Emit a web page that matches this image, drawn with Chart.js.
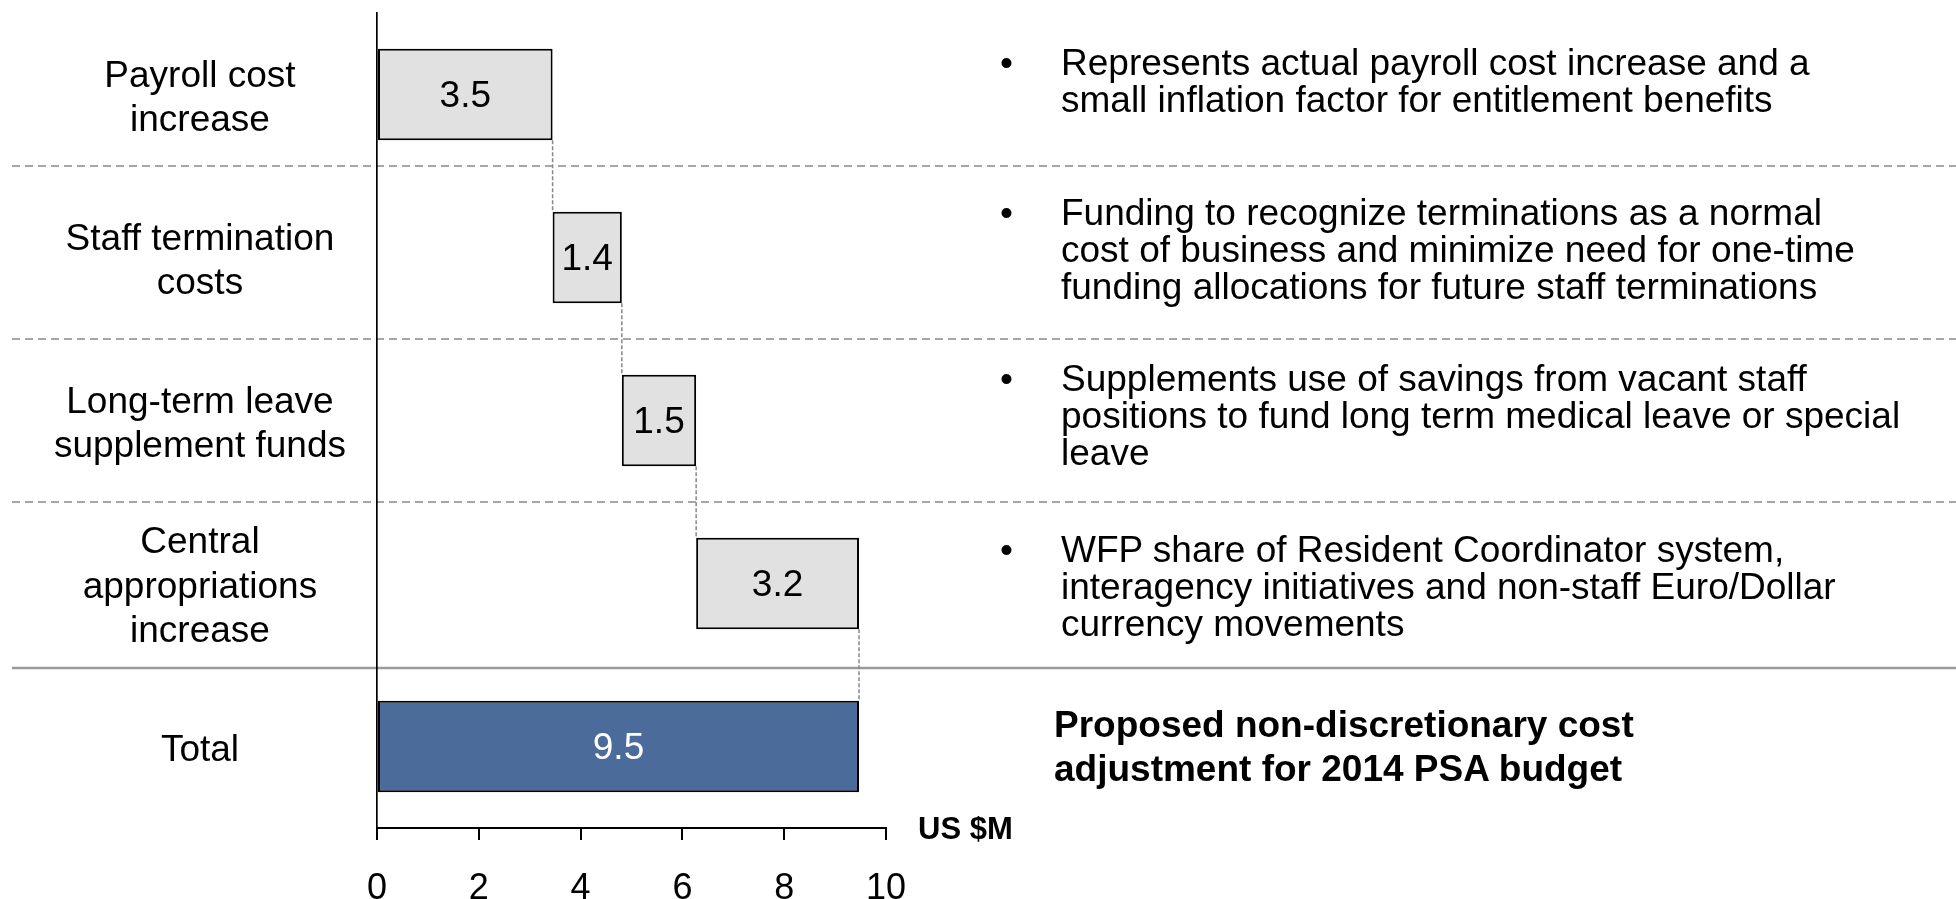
<!DOCTYPE html>
<html lang="en">
<head>
    <meta charset="UTF-8">
    <title>Non-discretionary cost adjustment</title>
    <script src="https://cdn.jsdelivr.net/npm/chart.js"></script>
    <style>
        body { margin: 0; background: #fff; font-family: "Liberation Sans", Arial, sans-serif; }
        #wrap { position: relative; width: 1956px; height: 899px; }
        .note { position: absolute; left: 1000px; font-size: 37px; line-height: 37px; color: #000; white-space: nowrap; }
        .note .dot { display: inline-block; width: 61px; vertical-align: top; }
        .note .txt { display: inline-block; vertical-align: top; }
        .bold { position: absolute; font-weight: bold; color: #000; white-space: nowrap; }
    </style>
</head>
<body>
<div id="wrap">
    <canvas id="costChart"></canvas>
    <div class="note" style="top:44px"><span class="dot">•</span><span class="txt">Represents actual payroll cost increase and a<br>small inflation factor for entitlement benefits</span></div>
    <div class="note" style="top:194px"><span class="dot">•</span><span class="txt">Funding to recognize terminations as a normal<br>cost of business and minimize need for one-time<br>funding allocations for future staff terminations</span></div>
    <div class="note" style="top:360px"><span class="dot">•</span><span class="txt">Supplements use of savings from vacant staff<br>positions to fund long term medical leave or special<br>leave</span></div>
    <div class="note" style="top:531px"><span class="dot">•</span><span class="txt">WFP share of Resident Coordinator system,<br>interagency initiatives and non-staff Euro/Dollar<br>currency movements</span></div>
    <div class="bold" style="left:1054px; top:703px; font-size:37px; line-height:44px">Proposed non-discretionary cost<br>adjustment for 2014 PSA budget</div>
    <div class="bold" style="left:918px; top:813px; font-size:31px; line-height:31px">US $M</div>
</div>

<script>
// categories and values (US $M)
const categories = [
    ['Payroll cost', 'increase'],
    ['Staff termination', 'costs'],
    ['Long-term leave', 'supplement funds'],
    ['Central', 'appropriations', 'increase'],
    'Total'
];
const increments = [3.45, 1.36, 1.46, 3.2];
const xTicks = [0, 2, 4, 6, 8, 10];

// build floating bars for the waterfall
let running = 0;
const ranges = [];
const shown = [];
increments.forEach(function (v) {
    ranges.push([running, running + v]);
    shown.push(v);
    running += v;
});
ranges.push([0, running]);
shown.push(running);

const fillColors = ['#e1e1e1', '#e1e1e1', '#e1e1e1', '#e1e1e1', '#4b6b9a'];
const textColors = ['#000', '#000', '#000', '#000', '#fff'];
const FONT = '"Liberation Sans", Arial, sans-serif';
// small pixel nudges of the row separators from the category boundaries
const sepNudge = [-10, 0, 0, 3];

const separators = {
    id: 'separators',
    beforeDraw(chart) {
        const ctx = chart.ctx;
        const y = chart.scales.y;
        ctx.save();
        for (let i = 0; i < categories.length - 1; i++) {
            const py = (y.getPixelForValue(i) + y.getPixelForValue(i + 1)) / 2 + sepNudge[i];
            const last = i === categories.length - 2;
            ctx.beginPath();
            ctx.setLineDash(last ? [] : [8, 5]);
            ctx.lineWidth = last ? 2.5 : 2;
            ctx.strokeStyle = last ? '#9a9a9a' : '#a6a6a6';
            ctx.moveTo(12, py);
            ctx.lineTo(chart.width, py);
            ctx.stroke();
        }
        ctx.restore();
    }
};

const barExtras = {
    id: 'barExtras',
    afterDatasetsDraw(chart) {
        const ctx = chart.ctx;
        const bars = chart.getDatasetMeta(0).data;
        ctx.save();
        // connectors
        ctx.setLineDash([4, 2]);
        ctx.lineWidth = 1.5;
        ctx.strokeStyle = '#888';
        for (let i = 0; i < bars.length - 1; i++) {
            const a = bars[i], b = bars[i + 1];
            ctx.beginPath();
            ctx.moveTo(a.x, a.y + a.height / 2);
            ctx.lineTo(a.x, b.y - b.height / 2);
            ctx.stroke();
        }
        // value labels
        ctx.setLineDash([]);
        ctx.font = '37px ' + FONT;
        ctx.textAlign = 'center';
        ctx.textBaseline = 'middle';
        bars.forEach(function (bar, i) {
            ctx.fillStyle = textColors[i];
            ctx.fillText((Math.round(shown[i] * 10) / 10).toFixed(1), (bar.x + bar.base) / 2, bar.y + 2);
        });
        ctx.restore();
    }
};

const ctx = document.getElementById('costChart').getContext('2d');
new Chart(ctx, {
    type: 'bar',
    data: {
        labels: categories,
        datasets: [{
            data: ranges,
            backgroundColor: fillColors,
            borderColor: '#000',
            borderWidth: 2,
            borderSkipped: false,
            barPercentage: 0.56,
            categoryPercentage: 1.0
        }]
    },
    options: {
        indexAxis: 'y',
        responsive: true,
        maintainAspectRatio: false,
        animation: false,
        layout: { padding: { top: 13, right: 1070, left: 0, bottom: 0 } },
        plugins: { legend: { display: false }, tooltip: { enabled: false } },
        scales: {
            x: {
                min: 0,
                max: 10,
                afterBuildTicks(scale) { scale.ticks = xTicks.map(v => ({ value: v })); },
                afterFit(scale) { scale.height = 71; scale.paddingLeft = 0; scale.paddingRight = 0; },
                grid: { drawOnChartArea: false, drawTicks: true, tickLength: 12, color: '#000', lineWidth: 2 },
                border: { display: true, color: '#000', width: 2 },
                ticks: { color: '#000', padding: 27, maxRotation: 0, font: { family: FONT, size: 36 } }
            },
            y: {
                afterFit(scale) { scale.width = 377; scale.paddingTop = 0; scale.paddingBottom = 0; },
                grid: { display: false, drawTicks: false },
                border: { display: true, color: '#000', width: 1.7 },
                ticks: { color: '#000', padding: 31, labelOffset: 4, crossAlign: 'center', font: { family: FONT, size: 37 } }
            }
        }
    },
    plugins: [separators, barExtras]
});
</script>
</body>
</html>
